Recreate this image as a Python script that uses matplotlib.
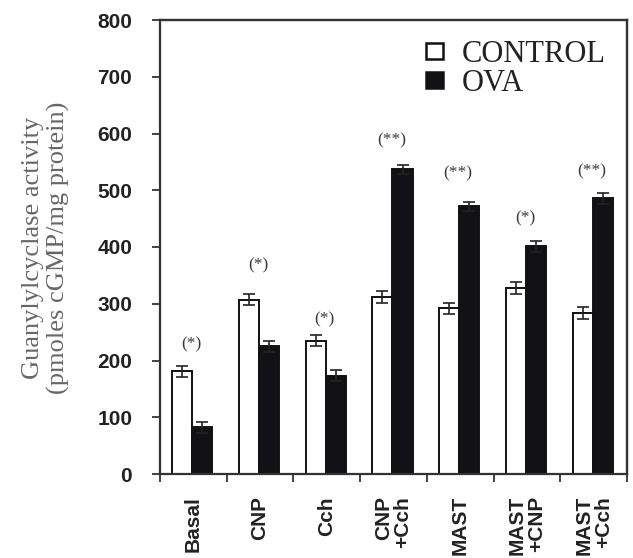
import matplotlib
matplotlib.use("Agg")
import matplotlib.pyplot as plt
import numpy as np
from matplotlib.patches import Patch
from matplotlib.lines import Line2D

categories = ["Basal", "CNP", "Cch", "CNP\n+Cch", "MAST", "MAST\n+CNP", "MAST\n+Cch"]
control = [181, 307, 235, 312, 292, 328, 284]
control_err = [10, 10, 10, 11, 10, 10, 10]
ova = [82, 225, 173, 537, 472, 401, 486]
ova_err = [10, 10, 10, 8, 8, 9, 10]
sig_labels = ["(*)", "(*)", "(*)", "(**)", "(**)", "(*)", "(**)"]
sig_y = [228, 368, 272, 588, 530, 451, 534]
yticks = [0, 100, 200, 300, 400, 500, 600, 700, 800]

fig = plt.figure(figsize=(6.33, 5.58), dpi=100)
left, right, top, bottom = 160 / 633, 627 / 633, 1 - 20 / 558, 1 - 474 / 558
ax = fig.add_axes([left, bottom, right - left, top - bottom])

x = np.arange(len(categories))
w = 0.30
off = 0.015
ax.bar(x - w / 2 - off, control, w, color="white", edgecolor="#111111", linewidth=1.4,
       yerr=control_err, capsize=4, error_kw=dict(ecolor="#222222", elinewidth=1.2, capthick=1.2),
       label="CONTROL", zorder=2)
ax.bar(x + w / 2 - off, ova, w, color="#111116", edgecolor="#111111", linewidth=1.4,
       yerr=ova_err, capsize=4, error_kw=dict(ecolor="#222222", elinewidth=1.2, capthick=1.2),
       label="OVA", zorder=2)

for xi, s, yy in zip(x, sig_labels, sig_y):
    ax.text(xi - 0.03, yy, s, ha="center", va="center", fontsize=12.5,
            family="Liberation Serif", color="#3a3a3a")

ax.set_xlim(-0.5, len(categories) - 0.5)
ax.set_ylim(0, 800)
ax.set_yticks(yticks)
ax.set_yticklabels([str(v) for v in yticks], fontsize=15, fontweight="bold",
                   family="Liberation Sans", color="#222222")
ax.set_xticks(np.arange(len(categories) + 1) - 0.5)
ax.set_xticklabels([])
ax.set_xticks(x, minor=True)
ax.set_xticklabels(categories, minor=True, rotation=90, fontsize=15, fontweight="bold",
                   family="Liberation Sans", va="top", ha="center", multialignment="right",
                   color="#222222", linespacing=1.0)
ax.tick_params(axis="x", which="minor", length=0, pad=16)
ax.tick_params(axis="both", which="major", direction="out", length=6, width=1.3, color="#333333")
ax.tick_params(axis="y", pad=14)
for name in ["left", "right", "top", "bottom"]:
    sp = ax.spines[name]
    sp.set_visible(True)
    sp.set_linewidth(1.6)
    sp.set_edgecolor("#333333")

# explicit frame lines on top and right (axes coordinates)
ax.add_line(Line2D([0, 1], [1, 1], transform=ax.transAxes, color="#333333",
                   linewidth=1.6, clip_on=False, zorder=6))
ax.add_line(Line2D([1, 1], [0, 1], transform=ax.transAxes, color="#333333",
                   linewidth=1.6, clip_on=False, zorder=6))

handles = [Patch(facecolor="white", edgecolor="#111111", linewidth=1.8),
           Patch(facecolor="#111116", edgecolor="#111111", linewidth=1.8)]
leg = ax.legend(handles, ["CONTROL", "OVA"], loc="upper right", frameon=False,
                prop=dict(family="Liberation Serif", size=22), handlelength=0.55,
                handleheight=0.45, handletextpad=0.6, labelspacing=0.0,
                bbox_to_anchor=(1.0, 1.003), borderaxespad=0.3)
for t in leg.get_texts():
    t.set_color("#222222")

fig.text(46 / 633, 1 - 248 / 558, "Guanylylcyclase activity\n(pmoles cGMP/mg protein)",
         rotation=90, ha="center", va="center", multialignment="center",
         fontsize=19, family="Liberation Serif", color="#666666", linespacing=1.2)

fig.savefig("out.png", dpi=100)
